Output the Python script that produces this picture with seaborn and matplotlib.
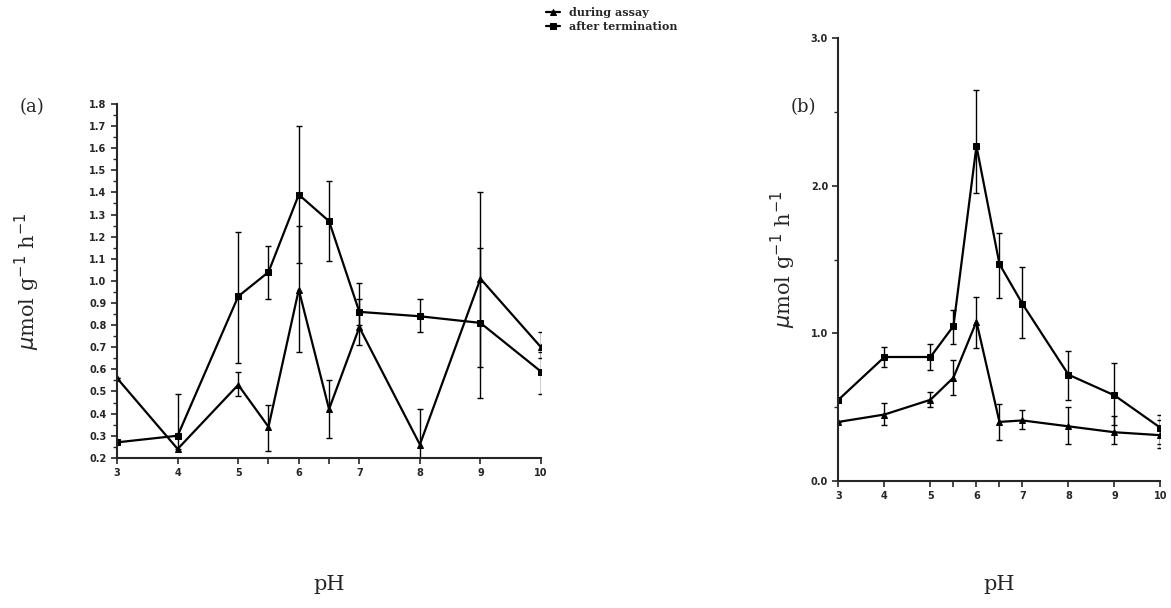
import numpy as np
import pandas as pd
import seaborn as sns
import matplotlib.pyplot as plt

# --- data ---
ph = [3, 4, 5, 5.5, 6, 6.5, 7, 8, 9, 10]

# panel (a)
a_after = [0.27, 0.30, 0.93, 1.04, 1.39, 1.27, 0.86, 0.84, 0.81, 0.59]
a_after_lo = [0.27, 0.30, 0.63, 0.92, 1.08, 1.09, 0.80, 0.77, 0.47, 0.49]
a_after_hi = [0.27, 0.30, 1.22, 1.16, 1.70, 1.45, 0.99, 0.92, 1.40, 0.68]
a_during = [0.56, 0.24, 0.53, 0.34, 0.96, 0.42, 0.79, 0.26, 1.01, 0.70]
a_during_lo = [0.56, 0.24, 0.48, 0.23, 0.68, 0.29, 0.71, 0.16, 0.61, 0.65]
a_during_hi = [0.56, 0.49, 0.59, 0.44, 1.25, 0.55, 0.92, 0.42, 1.15, 0.77]

# panel (b)
b_after = [0.55, 0.84, 0.84, 1.05, 2.27, 1.47, 1.20, 0.72, 0.58, 0.36]
b_after_lo = [0.55, 0.77, 0.75, 0.93, 1.95, 1.24, 0.97, 0.55, 0.38, 0.25]
b_after_hi = [0.55, 0.91, 0.93, 1.16, 2.65, 1.68, 1.45, 0.88, 0.80, 0.45]
b_during = [0.40, 0.45, 0.55, 0.70, 1.08, 0.40, 0.41, 0.37, 0.33, 0.31]
b_during_lo = [0.40, 0.38, 0.50, 0.58, 0.90, 0.28, 0.35, 0.25, 0.25, 0.22]
b_during_hi = [0.40, 0.53, 0.60, 0.82, 1.25, 0.52, 0.48, 0.50, 0.44, 0.41]

sns.set_theme(style="ticks")
plt.rcParams['font.family'] = ['DejaVu Sans']

fig = plt.figure(figsize=(11.71, 6.08), dpi=100)
ax_a = fig.add_axes([0.100, 0.247, 0.362, 0.582])
ax_b = fig.add_axes([0.716, 0.209, 0.275, 0.728])


def draw(ax, y, lo, hi, marker, label):
    df = pd.DataFrame({"pH": ph, "v": y})
    sns.lineplot(data=df, x="pH", y="v", ax=ax, color="black", lw=1.6,
                 marker=marker, markersize=4, markeredgecolor="black", label=label)
    y = np.array(y)
    err = [y - np.array(lo), np.array(hi) - y]
    ax.errorbar(ph, y, yerr=err, fmt="none", ecolor="black", elinewidth=1, capsize=2.5)


draw(ax_a, a_during, a_during_lo, a_during_hi, "^", "during assay")
draw(ax_a, a_after, a_after_lo, a_after_hi, "s", "after termination")
draw(ax_b, b_during, b_during_lo, b_during_hi, "^", "during assay")
draw(ax_b, b_after, b_after_lo, b_after_hi, "s", "after termination")

ax_a.set_xlim(3, 10)
ax_a.set_ylim(0.2, 1.8)
ticks_a = np.arange(0.2, 1.81, 0.1)
ax_a.set_yticks(ticks_a)
ax_a.set_yticklabels([f"{v:.1f}" for v in ticks_a])
ax_a.set_yticks(np.arange(0.25, 1.8, 0.1), minor=True)
ax_b.set_xlim(3, 10)
ax_b.set_ylim(0, 3.0)
ax_b.set_yticks([0, 1, 2, 3])
ax_b.set_yticklabels(["0.0", "1.0", "2.0", "3.0"])
ax_b.set_yticks([0.5, 1.5, 2.5], minor=True)

handles, labels = ax_a.get_legend_handles_labels()
for ax in (ax_a, ax_b):
    if ax.legend_:
        ax.legend_.remove()
    ax.set_xticks(ph)
    ax.set_xticklabels(["3", "4", "5", "", "6", "", "7", "8", "9", "10"])
    for lab in ax.get_xticklabels() + ax.get_yticklabels():
        lab.set_fontsize(7)
        lab.set_fontweight("bold")
    ax.tick_params(direction="out", length=4, width=1.2)
    ax.tick_params(which="minor", direction="out", length=3, width=1)
    for s in ("top", "right"):
        ax.spines[s].set_visible(False)
    for s in ("left", "bottom"):
        ax.spines[s].set_linewidth(1.5)
    ax.set_xlabel("pH", fontsize=15, family="serif")
    ax.set_ylabel(r"$\mu$mol g$^{-1}$ h$^{-1}$", fontsize=15, family="serif")

ax_a.xaxis.set_label_coords(0.5, -0.33)
ax_b.xaxis.set_label_coords(0.5, -0.212)
ax_a.yaxis.set_label_coords(-0.177, 0.5)
ax_b.yaxis.set_label_coords(-0.127, 0.5)

fig.legend(handles, labels, loc="upper left", bbox_to_anchor=(0.458, 1.005), frameon=False,
           prop={"size": 8, "weight": "bold", "family": "serif"}, handlelength=1.2,
           labelspacing=0.3)
fig.text(0.017, 0.815, "(a)", fontsize=13, family="serif")
fig.text(0.675, 0.815, "(b)", fontsize=13, family="serif")

fig.savefig("out.png", dpi=100)
